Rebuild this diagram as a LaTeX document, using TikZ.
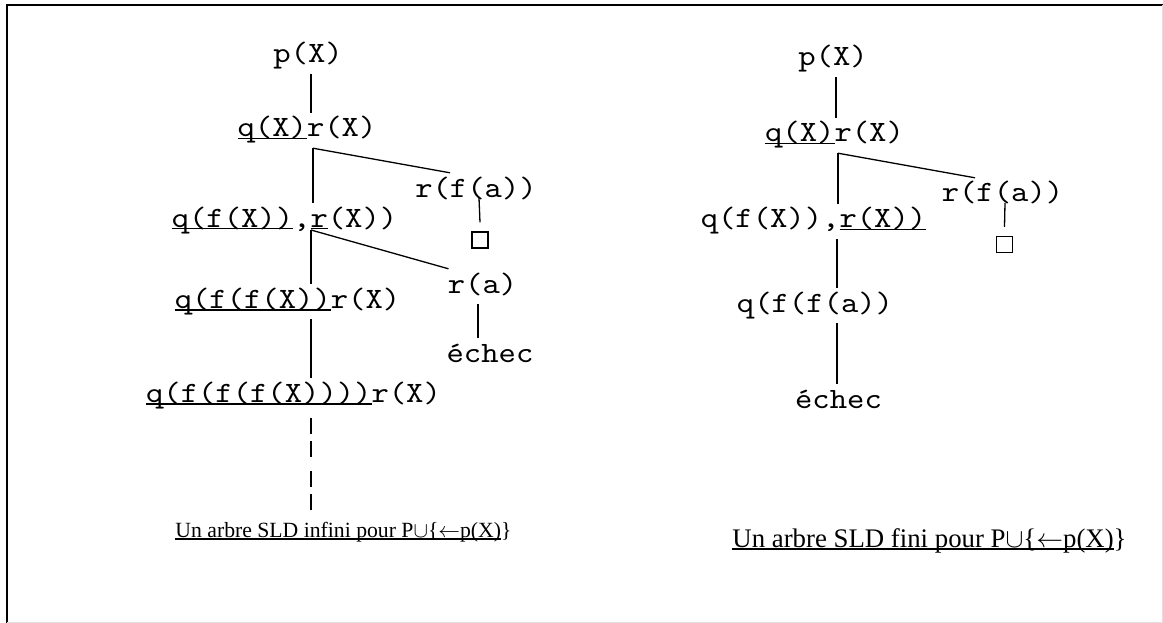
\documentclass[tikz,border=0pt]{standalone}
\usepackage{fontspec}
\setmainfont{Liberation Serif}
\newfontfamily\sldfont{lmmono10-regular.otf}[FakeStretch=1.12]
\usepackage{fix-cm}
\usetikzlibrary{calc}

% underline of the selected atom
\newcommand{\sel}[1]{\setbox0\hbox{#1}\rlap{\rule[-2.5pt]{\wd0}{1.3pt}}#1}

\begin{document}
\begin{tikzpicture}[x=1pt,y=-1pt,
  term/.style={font=\sldfont\fontsize{29.5}{30}\selectfont, anchor=base, inner xsep=0pt, inner ysep=3pt, text height=21pt, text depth=8pt},
  emptyclause/.style={draw, line width=1.4pt, minimum size=16pt, inner sep=0pt},
  caption/.style={font=\fontsize{21.7}{24}\selectfont, anchor=base, inner sep=0pt},
  edge/.style={line width=1.3pt}]
\useasboundingbox (0,0) rectangle (1163,623);
\draw [line width=2pt] (7,623) -- (7,5) -- (1163,5);
\draw [gray!25] (1162,5) -- (1162,622) -- (7,622);

% infinite tree
\node [term] (pL) at (308,63) {p(X)};
\node [term] (qrL) at (307,137) {\sel{q(X)}r(X)};
\node [term] (rfaL) at (476,197) {r(f(a))};
\node [emptyclause] (boxL) at (480,240) {};
\node [term] (qfxL) at (284.5,227) {\sel{q(f(X))},\sel{r}(X))};
\node [term] (raL) at (482.5,293) {r(a)};
\node [term] (echL) at (490,362) {échec};
\node [term] (qffxL) at (287.5,308) {\sel{q(f(f(X))}r(X)};
\node [term] (qfffxL) at (293.5,402) {\sel{q(f(f(f(X))))}r(X)};
\node [caption] (capL) at (343.5,537) {\sel{Un arbre SLD infini pour P$\cup$\{$\leftarrow$p(X)}\}};

\coordinate (jL1) at ([xshift=6pt]qrL.south);
\coordinate (jL2) at ([xshift=26.5pt,yshift=-3pt]qfxL.base);
\coordinate (endL) at ([xshift=17.5pt]qfffxL.south |- 0,510);

\draw [edge] ([xshift=3pt]pL.south) -- ([xshift=3pt]pL.south |- qrL.north);
\draw [edge] (jL1) -- (jL1 |- qfxL.north);
\draw [edge] (jL1) -- ([xshift=-26pt]rfaL.north);
\draw [edge] ([xshift=3pt,yshift=-1pt]rfaL.base) -- ([yshift=9pt]boxL.north);
\draw [edge] (jL2) -- (jL2 |- qffxL.north);
\draw [edge] (jL2) -- ([xshift=-34pt]raL.north);
\draw [edge] ([xshift=-4.5pt]raL.south) -- ([xshift=-4.5pt]raL.south |- echL.north);
\draw [edge] ([xshift=23.5pt]qffxL.south) -- ([xshift=23.5pt]qffxL.south |- qfffxL.north);
\draw [edge, dash pattern=on 16pt off 7pt on 16pt off 14pt] ([xshift=17.5pt,yshift=-5pt]qfffxL.south) -- (endL);

% finite tree
\node [term] (pR) at (833,66) {p(X)};
\node [term] (qrR) at (834.5,142) {\sel{q(X)}r(X)};
\node [term] (rfaR) at (1002.5,202) {r(f(a))};
\node [emptyclause] (boxR) at (1004.5,244.5) {};
\node [term] (qfxR) at (813.5,228) {q(f(X)),\sel{r(X))}};
\node [term] (qffaR) at (815,312) {q(f(f(a))};
\node [term] (echR) at (838.5,408) {échec};
\node [caption, font=\fontsize{26.8}{28}\selectfont] (capR) at (929.5,547) {\sel{Un arbre SLD fini pour P$\cup$\{$\leftarrow$p(X)}\}};

\coordinate (jR1) at ([xshift=3.5pt]qrR.south);

\draw [edge] ([xshift=3pt]pR.south) -- ([xshift=3pt]pR.south |- qrR.north);
\draw [edge] (jR1) -- (jR1 |- qfxR.north);
\draw [edge] (jR1) -- ([xshift=-27.5pt]rfaR.north);
\draw [edge] ([xshift=2.5pt,yshift=-1pt]rfaR.base) -- ([yshift=9pt]boxR.north);
\draw [edge] ([xshift=23.5pt]qfxR.south) -- ([xshift=23.5pt]qfxR.south |- qffaR.north);
\draw [edge] ([xshift=22pt]qffaR.south) -- ([xshift=22pt]qffaR.south |- echR.north);

\end{tikzpicture}
\end{document}
